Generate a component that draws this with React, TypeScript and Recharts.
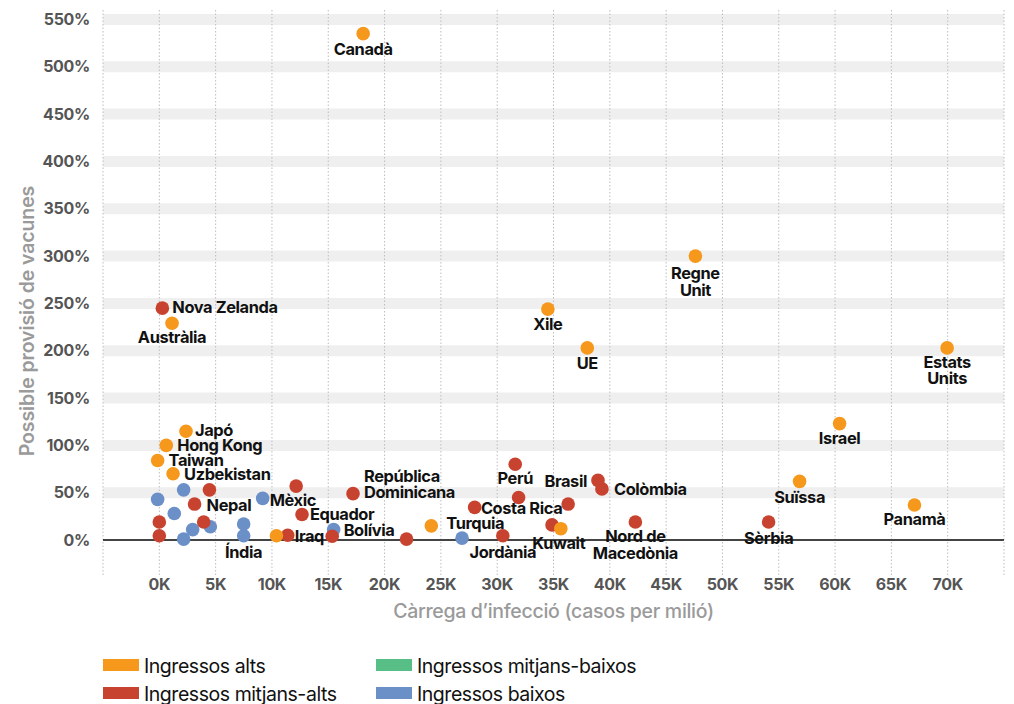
import React from 'react';
import { ScatterChart, Scatter, XAxis, YAxis, CartesianGrid, ReferenceLine, Label } from 'recharts';

const xTicks = [-5000, 0, 5000, 10000, 15000, 20000, 25000, 30000, 35000, 40000, 45000, 50000, 55000, 60000, 65000, 70000, 75000];
const yTicks = [0, 50, 100, 150, 200, 250, 300, 350, 400, 450, 500, 550];

const highIncome = [
  { name: 'Canadà', x: 18100, y: 535 },
  { name: 'Regne\nUnit', x: 47600, y: 300 },
  { name: 'Xile', x: 34500, y: 244 },
  { name: 'UE', x: 38000, y: 203 },
  { name: 'Estats\nUnits', x: 69950, y: 203 },
  { name: 'Israel', x: 60400, y: 123 },
  { name: 'Suïssa', x: 56850, y: 62 },
  { name: 'Panamà', x: 67050, y: 37 },
  { name: 'Austràlia', x: 1130, y: 229 },
  { name: 'Japó', x: 2370, y: 115 },
  { name: 'Hong Kong', x: 620, y: 100 },
  { name: 'Taiwan', x: -150, y: 84 },
  { name: 'Uzbekistan', x: 1220, y: 70 },
  { name: 'Turquia', x: 24150, y: 15 },
  { name: 'Kuwait', x: 35650, y: 12 },
  { name: '', x: 10400, y: 4.5 },
];

const upperMiddleIncome = [
  { name: 'Nova Zelanda', x: 270, y: 245 },
  { name: '', x: 0, y: 19 },
  { name: '', x: 0, y: 4.5 },
  { name: '', x: 4450, y: 53 },
  { name: 'Nepal', x: 3130, y: 38 },
  { name: '', x: 3940, y: 19 },
  { name: '', x: 12150, y: 57 },
  { name: 'Equador', x: 12670, y: 27 },
  { name: 'Iraq', x: 11400, y: 5 },
  { name: '', x: 15350, y: 4 },
  { name: 'República\nDominicana', x: 17200, y: 49 },
  { name: '', x: 21950, y: 1 },
  { name: '', x: 28000, y: 34.5 },
  { name: 'Jordània', x: 30500, y: 4.5 },
  { name: 'Perú', x: 31600, y: 80 },
  { name: 'Costa Rica', x: 31900, y: 45 },
  { name: '', x: 36300, y: 38 },
  { name: '', x: 34870, y: 16 },
  { name: 'Brasil', x: 38950, y: 63 },
  { name: 'Colòmbia', x: 39300, y: 54 },
  { name: 'Nord de\nMacedònia', x: 42270, y: 19 },
  { name: 'Sèrbia', x: 54100, y: 19 },
];

const lowerMiddleIncome: { name: string; x: number; y: number }[] = [];

const lowIncome = [
  { name: '', x: -150, y: 43 },
  { name: '', x: 2160, y: 53 },
  { name: '', x: 1330, y: 28 },
  { name: '', x: 2160, y: 1 },
  { name: '', x: 2960, y: 11 },
  { name: '', x: 4530, y: 14 },
  { name: '', x: 7490, y: 17 },
  { name: 'Índia', x: 7490, y: 4.5 },
  { name: 'Mèxic', x: 9180, y: 44 },
  { name: 'Bolívia', x: 15480, y: 11 },
  { name: '', x: 26880, y: 2 },
];

const series = [
  { key: 'alts', label: 'Ingressos alts', color: '#F5981C', data: highIncome },
  { key: 'mitjansAlts', label: 'Ingressos mitjans-alts', color: '#C8432F', data: upperMiddleIncome },
  { key: 'mitjansBaixos', label: 'Ingressos mitjans-baixos', color: '#57BE86', data: lowerMiddleIncome },
  { key: 'baixos', label: 'Ingressos baixos', color: '#6B8FC7', data: lowIncome },
];

// label placement (pixel offsets relative to the point)
type Place = { dx: number; dy: number; anchor: 'start' | 'middle' | 'end' };
const below = (dy = 21, dx = 0): Place => ({ dx, dy, anchor: 'middle' });
const right = (dx: number, dy: number): Place => ({ dx, dy, anchor: 'start' });
const placement: Record<string, Place> = {
  'Canadà': below(21),
  'Regne\nUnit': below(23),
  'Xile': below(21),
  'UE': below(21.5),
  'Estats\nUnits': below(20),
  'Israel': below(20),
  'Suïssa': below(22),
  'Panamà': below(20),
  'Sèrbia': below(22),
  'Nord de\nMacedònia': below(20),
  'Kuwait': below(20, -2),
  'Jordània': below(22),
  'Perú': below(20),
  'Costa Rica': below(17, 3),
  'Índia': below(22),
  'Austràlia': below(20),
  'Colòmbia': right(12, 6),
  'Brasil': { dx: -11, dy: 7, anchor: 'end' },
  'Turquia': right(15, 3),
  'República\nDominicana': right(11, -12),
  'Bolívia': right(10, 6),
  'Iraq': right(7, 7),
  'Equador': right(8, 6),
  'Mèxic': right(7, 8),
  'Nepal': right(12, 7),
  'Uzbekistan': right(11, 6),
  'Taiwan': right(11, 5),
  'Hong Kong': right(11, 6),
  'Japó': right(9, 5),
  'Nova Zelanda': right(10, 5),
};

const labeled = series.flatMap((s) => s.data.filter((d) => d.name));

const Dot = (color: string) => (props: any) => {
  const { cx, cy } = props;
  if (cx == null || cy == null) return <g />;
  return <circle cx={cx} cy={cy} r={6.8} fill={color} />;
};

const LabelShape = (props: any) => {
  const { cx, cy, payload } = props;
  if (cx == null || cy == null || !payload?.name) return <g />;
  const p = placement[payload.name] || below();
  const lines = String(payload.name).split('\n');
  return (
    <text
      x={cx + p.dx}
      y={cy + p.dy}
      textAnchor={p.anchor}
      fill="#111"
      fontSize={16.4}
      fontWeight={700}
      letterSpacing={-0.4}
      fontFamily="Inter"
    >
      {lines.map((l, i) => (
        <tspan key={i} x={cx + p.dx} dy={i === 0 ? 0 : 16.5}>
          {l}
        </tspan>
      ))}
    </text>
  );
};

export default function App() {
  return (
    <div style={{ position: 'absolute', left: 0, top: 0, width: 1014, height: 704, background: '#fff', fontFamily: 'Inter' }}>
      <ScatterChart width={1014} height={640} margin={{ top: 10, right: 10, bottom: 0, left: 0 }} style={{ fontFamily: 'Inter' }}>
        <CartesianGrid vertical={false} horizontalValues={yTicks.filter((t) => t > 0)} stroke="#EFEFEF" strokeWidth={11} />
        <CartesianGrid horizontal={false} verticalValues={xTicks} stroke="#BDBDBD" strokeDasharray="1.5 2" />
        <XAxis
          type="number"
          dataKey="x"
          domain={[-5000, 75000]}
          ticks={xTicks}
          interval={0}
          tickFormatter={(v: number) => (v < 0 || v > 70000 ? '' : `${v / 1000}K`)}
          height={64}
          tickSize={0}
          tickMargin={3}
          axisLine={false}
          tickLine={false}
          tick={{ fill: '#555', fontSize: 16, fontWeight: 700, letterSpacing: -0.3 }}
        >
          <Label value="Càrrega d’infecció (casos per milió)" position="insideTop" offset={28} fill="#9A9A9A" fontSize={19.5} fontWeight={500} letterSpacing={-0.3} />
        </XAxis>
        <YAxis
          type="number"
          dataKey="y"
          domain={[-38, 560]}
          ticks={yTicks}
          interval={0}
          tickFormatter={(v: number) => `${v}%`}
          width={103}
          tickSize={0}
          tickMargin={13}
          axisLine={false}
          tickLine={false}
          tick={{ fill: '#555', fontSize: 16, fontWeight: 700, letterSpacing: -0.3 }}
        >
          <Label
            content={() => (
              <text transform="translate(34, 321) rotate(-90)" textAnchor="middle" fill="#9A9A9A" fontSize={19.5} fontWeight={600} fontFamily="Inter" letterSpacing={-0.1}>
                Possible provisió de vacunes
              </text>
            )}
          />
        </YAxis>
        <ReferenceLine y={0} stroke="#444" strokeWidth={2} />
        {[...series].reverse().map((s) => (
          <Scatter key={s.key} name={s.label} data={s.data} fill={s.color} shape={Dot(s.color)} isAnimationActive={false} />
        ))}
        <Scatter name="labels" data={labeled} shape={LabelShape} isAnimationActive={false} legendType="none" />
      </ScatterChart>
      <div
        style={{
          position: 'absolute',
          left: 103,
          top: 651,
          display: 'grid',
          gridAutoFlow: 'column',
          gridTemplateRows: '28px 28px',
          gridTemplateColumns: '273px auto',
        }}
      >
        {series.map((s) => (
          <div key={s.key} style={{ display: 'flex', alignItems: 'center', height: 28 }}>
            <div style={{ width: 36, height: 12, background: s.color, marginRight: 5 }} />
            <span style={{ fontSize: 19.5, lineHeight: '28px', color: '#111', letterSpacing: -0.45, fontFamily: 'Inter', position: 'relative', top: 1 }}>{s.label}</span>
          </div>
        ))}
      </div>
    </div>
  );
}
